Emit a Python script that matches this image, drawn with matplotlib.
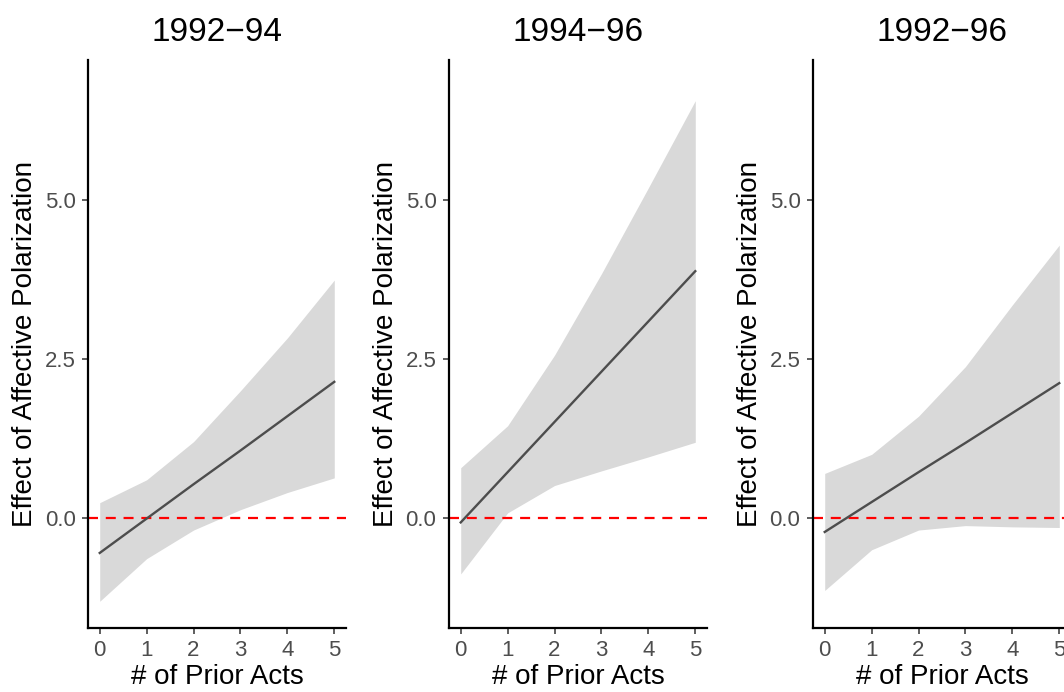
import matplotlib
matplotlib.use("Agg")
import matplotlib.pyplot as plt
import numpy as np

plt.rcParams['font.family'] = ['Liberation Sans', 'DejaVu Sans']

titles = ["1992\u221294", "1994\u221296", "1992\u221296"]
acts = [0, 1, 2, 3, 4, 5]
est = [
    [-0.55, -0.01, 0.53, 1.06, 1.60, 2.14],
    [-0.07, 0.72, 1.51, 2.30, 3.09, 3.88],
    [-0.22, 0.25, 0.72, 1.18, 1.65, 2.12],
]
upper = [
    [0.24, 0.60, 1.20, 2.00, 2.83, 3.74],
    [0.79, 1.45, 2.56, 3.84, 5.19, 6.56],
    [0.70, 1.00, 1.60, 2.38, 3.35, 4.29],
]
lower = [
    [-1.31, -0.64, -0.19, 0.13, 0.40, 0.63],
    [-0.88, 0.08, 0.51, 0.74, 0.96, 1.19],
    [-1.14, -0.50, -0.19, -0.12, -0.14, -0.15],
]
yticks = [0.0, 2.5, 5.0]
ytick_labels = ["0.0", "2.5", "5.0"]
xlabel = "# of Prior Acts"
ylabel = "Effect of Affective Polarization"

W, H = 1064, 692
fig = plt.figure(figsize=(W / 100, H / 100), dpi=100)
lefts = [88, 449, 813]
pw = 258
top, bottom = 60, 628

for i in range(3):
    ax = fig.add_axes([lefts[i] / W, (H - bottom) / H, pw / W, (bottom - top) / H])
    ax.fill_between(acts, lower[i], upper[i], color='#d9d9d9', linewidth=0, zorder=1)
    ax.plot(acts, est[i], color='#4d4d4d', linewidth=1.7, zorder=3)
    ax.axhline(0, color='#ff0000', linestyle=(0, (4.5, 3.5)), linewidth=1.6, zorder=2)
    ax.set_xlim(-0.25, 5.25)
    ax.set_ylim(-1.73, 7.2)
    ax.set_xticks(acts)
    ax.set_yticks(yticks)
    ax.set_yticklabels(ytick_labels)
    for s in ['top', 'right']:
        ax.spines[s].set_visible(False)
    for s in ['left', 'bottom']:
        ax.spines[s].set_linewidth(1.6)
        ax.spines[s].set_color('black')
    ax.tick_params(axis='both', direction='out', length=4, width=1.1, color='#333333',
                   labelsize=16, labelcolor='#4d4d4d', pad=5)
    ax.set_title(titles[i], fontsize=24, pad=14, color='black')
    ax.set_xlabel(xlabel, fontsize=20, labelpad=1.5, color='black')
    ax.set_ylabel(ylabel, fontsize=20, labelpad=5, color='black')

fig.savefig("out.png", dpi=100)
